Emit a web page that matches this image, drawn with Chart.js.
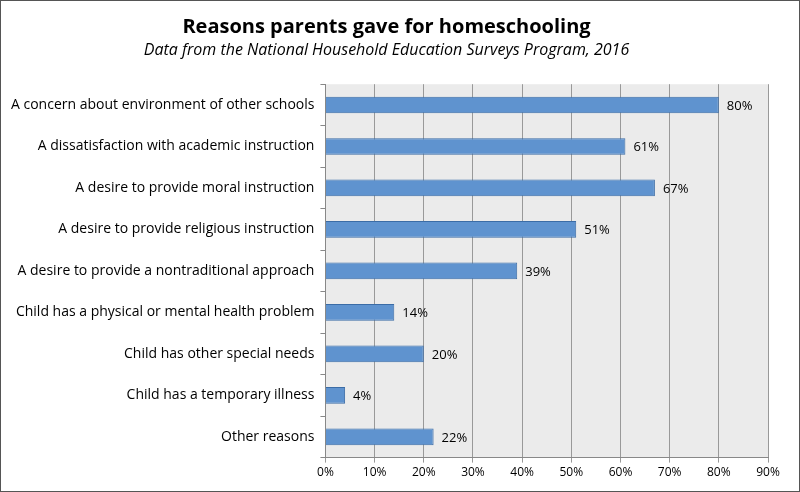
<!DOCTYPE html>
<html><head><meta charset="utf-8">
<script src="https://cdn.jsdelivr.net/npm/chart.js@4"></script>
<style>
html,body{margin:0;padding:0;background:#fff;}
#wrap{position:relative;width:798px;height:490px;border:1px solid #555;}
</style></head><body>
<div id="wrap"><canvas id="c" width="798" height="490"></canvas></div>
<script>
const categories = [
 "A concern about environment of other schools",
 "A dissatisfaction with academic instruction",
 "A desire to provide moral instruction",
 "A desire to provide religious instruction",
 "A desire to provide a nontraditional approach",
 "Child has a physical or mental health problem",
 "Child has other special needs",
 "Child has a temporary illness",
 "Other reasons"];
const values = [80, 61, 67, 51, 39, 14, 20, 4, 22];
const tickLabels = ["0%","10%","20%","30%","40%","50%","60%","70%","80%","90%"];

const bgPlugin = {
  id:'bg',
  beforeDraw(chart){
    const {ctx, chartArea:a} = chart;
    ctx.save(); ctx.fillStyle='#ebebeb';
    ctx.fillRect(a.left,a.top,a.right-a.left,a.bottom-a.top);
    ctx.restore();
  }
};
const labelPlugin = {
  id:'lbl',
  afterDatasetsDraw(chart){
    const {ctx} = chart; const meta = chart.getDatasetMeta(0);
    ctx.save(); ctx.font='13px "Open Sans", sans-serif'; ctx.fillStyle='#000';
    ctx.textBaseline='middle';
    meta.data.forEach((b,i)=>{ ctx.fillText(values[i]+'%', b.x+8, b.y+1); });
    ctx.restore();
  }
};
new Chart(document.getElementById('c'), {
  type:'bar',
  data:{labels:categories, datasets:[{data:values, backgroundColor:'#5f93cf', borderColor:'#3b6ca6', borderWidth:1, barPercentage:0.4, categoryPercentage:1}]},
  options:{
    indexAxis:'y', responsive:false, animation:false,
    layout:{padding:{top:0,right:31,bottom:8,left:4}},
    plugins:{legend:{display:false}, tooltip:{enabled:false},
      title:{display:true, text:'Reasons parents gave for homeschooling', font:{family:'Open Sans', size:20, weight:'bold'}, color:'#000', padding:{top:14,bottom:2}},
      subtitle:{display:true, text:'Data from the National Household Education Surveys Program, 2016', font:{family:'Open Sans', size:16, style:'italic'}, color:'#000', padding:{bottom:24}}
    },
    scales:{
      x:{min:0,max:90, border:{color:'#888'},
        grid:{color:'#999', drawTicks:true, tickLength:5},
        ticks:{stepSize:10, color:'#000', font:{family:'Open Sans', size:12}, callback:(v,i)=>tickLabels[i]}},
      y:{border:{color:'#888'}, grid:{display:true, drawOnChartArea:false, offset:true, tickLength:5, color:'#888'},
        ticks:{color:'#000', font:{family:'Open Sans', size:14}, padding:6}}
    }
  },
  plugins:[bgPlugin,labelPlugin]
});
</script></body></html>
